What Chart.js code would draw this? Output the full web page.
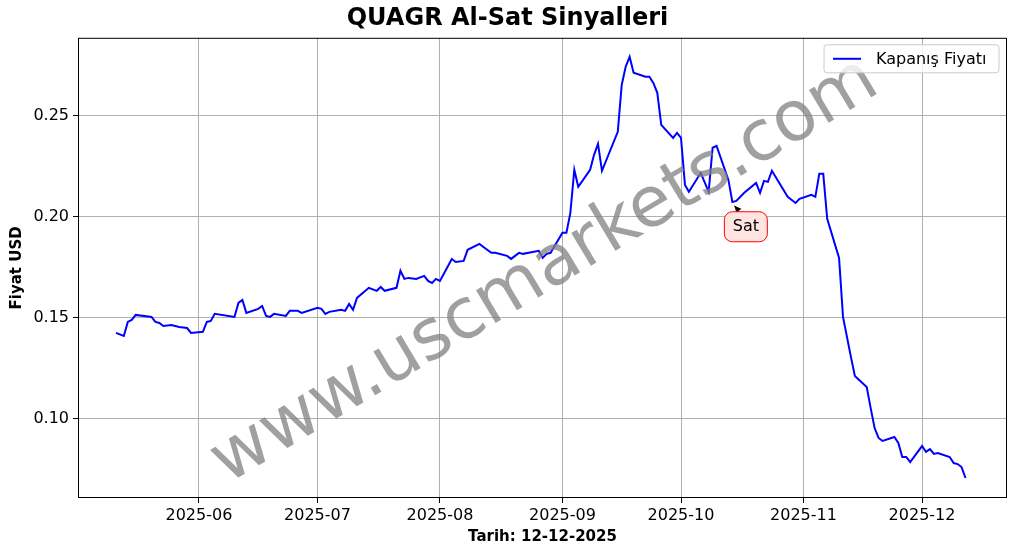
<!DOCTYPE html>
<html><head><meta charset="utf-8">
<script src="https://cdn.jsdelivr.net/npm/chart.js@4.4.1/dist/chart.umd.min.js"></script>
<style>html,body{margin:0;padding:0;background:#fff}#wrap{width:1017px;height:554px}</style>
</head><body><div id="wrap"><canvas id="c" width="1017" height="554"></canvas></div>
<script>
// Day-of-year (0 = 1 Jan 2025)
const days = [130,132,133,134,135,139,140,141,142,144,146,148,149,152,153,154,155,160,161,162,163,166,167,168,169,170,173,174,176,177,181,182,183,184,187,188,189,190,191,194,196,197,198,201,202,203,204,206,208,209,210,211,212,215,216,218,219,222,223,225,226,229,230,232,233,237,238,239,240,243,244,245,246,247,250,251,252,253,257,258,259,260,261,264,265,266,267,268,271,272,273,274,275,278,280,281,282,285,286,287,289,292,293,294,295,296,300,302,303,306,307,308,309,310,313,314,316,317,320,321,322,323,324,327,328,329,330,331,334,335,336,337,338,341,342,343,344,345];
const prices = [0.1426,0.1411,0.1480,0.1490,0.1515,0.1505,0.1480,0.1475,0.1460,0.1465,0.1455,0.1450,0.1426,0.1431,0.1480,0.1485,0.1520,0.1505,0.1574,0.1589,0.1525,0.1545,0.1559,0.1510,0.1505,0.1520,0.1510,0.1535,0.1535,0.1525,0.1550,0.1545,0.1520,0.1530,0.1540,0.1535,0.1569,0.1540,0.1599,0.1649,0.1634,0.1653,0.1634,0.1649,0.1733,0.1693,0.1698,0.1693,0.1708,0.1683,0.1673,0.1693,0.1683,0.1792,0.1777,0.1782,0.1837,0.1866,0.1851,0.1822,0.1822,0.1807,0.1792,0.1822,0.1817,0.1832,0.1797,0.1817,0.1822,0.1921,0.1921,0.2020,0.2233,0.2149,0.2233,0.2307,0.2361,0.2228,0.2421,0.2653,0.2743,0.2792,0.2713,0.2693,0.2693,0.2663,0.2614,0.2455,0.2391,0.2416,0.2391,0.2158,0.2124,0.2218,0.2124,0.2342,0.2351,0.2183,0.2074,0.2079,0.2119,0.2168,0.2119,0.2178,0.2173,0.2228,0.2099,0.2069,0.2089,0.2109,0.2099,0.2213,0.2213,0.1990,0.1797,0.1505,0.1307,0.1213,0.1158,0.1054,0.0955,0.0906,0.0891,0.0911,0.0881,0.0812,0.0812,0.0787,0.0866,0.0837,0.0851,0.0827,0.0832,0.0812,0.0782,0.0777,0.0762,0.0708];
const tickDays = [151,181,212,243,273,304,334];
const tickLabels = ['2025-06','2025-07','2025-08','2025-09','2025-10','2025-11','2025-12'];
const yTicks = [0.10,0.15,0.20,0.25];
const signalDay = [286.5];
const signalPrice = [0.2055];
const signalText = ['Sat'];

const F = 'DejaVu Sans';
const points = days.map((d,i)=>({x:d,y:prices[i]}));

const deco = {
  id:'deco',
  afterDatasetsDraw(chart){
    const {ctx, chartArea:a, scales:{x,y}} = chart;
    ctx.save();
    signalDay.forEach((d,i)=>{
      const px=x.getPixelForValue(d), py=y.getPixelForValue(signalPrice[i]);
      ctx.strokeStyle='#000'; ctx.lineWidth=1;
      ctx.beginPath(); ctx.moveTo(px+9,py+12); ctx.lineTo(px,py); ctx.stroke();
      ctx.fillStyle='#000'; ctx.beginPath(); ctx.moveTo(px,py); ctx.lineTo(px+7,py+3); ctx.lineTo(px+2,py+7); ctx.closePath(); ctx.fill();
      const bx=px-10, by=py+6, bw=43, bh=30, r=8;
      ctx.beginPath(); ctx.roundRect(bx,by,bw,bh,r);
      ctx.fillStyle='rgba(255,228,225,1)'; ctx.fill();
      ctx.strokeStyle='#ff0000'; ctx.stroke();
      ctx.fillStyle='#000'; ctx.font='16px '+F; ctx.textAlign='center'; ctx.textBaseline='middle';
      ctx.fillText(signalText[i], bx+bw/2, by+bh/2);
    });
    ctx.translate(545,272); ctx.rotate(-31*Math.PI/180);
    ctx.fillStyle='rgba(128,128,128,0.75)'; ctx.font='70px '+F; ctx.textAlign='center'; ctx.textBaseline='middle';
    ctx.fillText('www.uscmarkets.com',0,0);
    ctx.restore();
    ctx.save(); ctx.strokeStyle='#000'; ctx.lineWidth=1;
    ctx.strokeRect(a.left+0.5,a.top+0.5,a.right-a.left-1,a.bottom-a.top-1);
    const lx=a.right-183, ly=a.top+7, lw=175, lh=28;
    ctx.fillStyle='rgba(255,255,255,0.8)'; ctx.strokeStyle='#ccc';
    ctx.beginPath(); ctx.roundRect(lx,ly,lw,lh,3); ctx.fill(); ctx.stroke();
    ctx.strokeStyle='#0000ff'; ctx.lineWidth=2;
    ctx.beginPath(); ctx.moveTo(lx+9,ly+14); ctx.lineTo(lx+37,ly+14); ctx.stroke();
    ctx.fillStyle='#000'; ctx.font='16px '+F; ctx.textBaseline='middle';
    ctx.fillText('Kapanış Fiyatı', lx+52, ly+15);
    ctx.restore();
  }
};

new Chart(document.getElementById('c'),{
  type:'line',
  data:{datasets:[{label:'Kapanış Fiyatı',data:points,borderColor:'#0000ff',borderWidth:2,pointRadius:0,tension:0,fill:false}]},
  options:{
    responsive:false,animation:false,
    layout:{padding:{right:10,left:8,top:0,bottom:8}},
    plugins:{
      legend:{display:false},tooltip:{enabled:false},
      title:{display:true,text:'QUAGR Al-Sat Sinyalleri',color:'#000',font:{family:F,size:24,weight:'bold'},padding:{top:4,bottom:5}}
    },
    scales:{
      x:{type:'linear',min:120.4,max:355.5,
        afterBuildTicks:s=>{s.ticks=tickDays.map(v=>({value:v}));},
        afterFit:s=>{s.height=48;},
        ticks:{color:'#000',font:{family:F,size:16},maxRotation:0,autoSkip:false,padding:3,
          callback:(v)=>{const i=tickDays.indexOf(v);return i>=0?tickLabels[i]:'';}},
        grid:{color:'#b0b0b0',drawTicks:true,tickLength:5,tickColor:'#000'},
        border:{display:false},
        title:{display:true,text:'Tarih: 12-12-2025',color:'#000',font:{family:F,size:15,weight:'bold'},padding:{top:0,bottom:0}}
      },
      y:{min:0.0609,max:0.2886,
        afterBuildTicks:s=>{s.ticks=yTicks.map(v=>({value:v}));},
        afterFit:s=>{s.width=70;},
        ticks:{color:'#000',font:{family:F,size:16},padding:4,callback:v=>v.toFixed(2)},
        grid:{color:'#b0b0b0',tickLength:5,tickColor:'#000'},
        border:{display:false},
        title:{display:true,text:'Fiyat USD',color:'#000',font:{family:F,size:15,weight:'bold'},padding:{top:0,bottom:0}}
      }
    }
  },
  plugins:[deco]
});
</script></body></html>
